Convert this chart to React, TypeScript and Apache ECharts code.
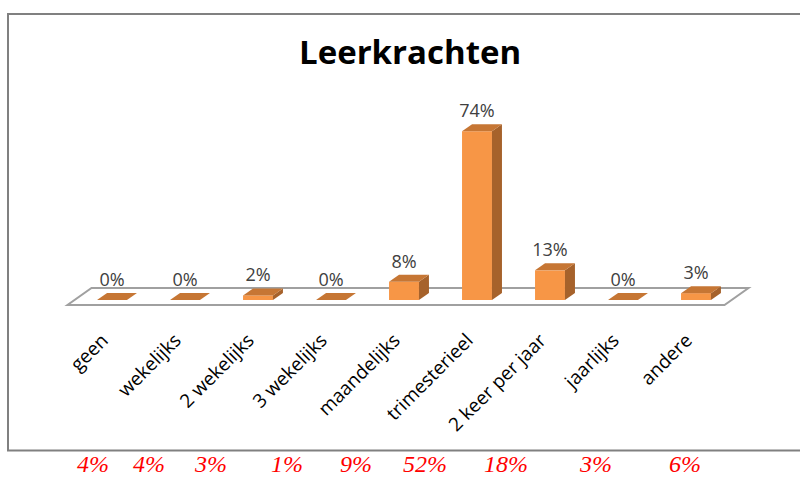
import React, { useEffect, useRef } from "react";
import * as echarts from "echarts";

const categories = [
  "geen",
  "wekelijks",
  "2 wekelijks",
  "3 wekelijks",
  "maandelijks",
  "trimesterieel",
  "2 keer per jaar",
  "jaarlijks",
  "andere",
];
const values = [0, 0, 2, 0, 8, 74, 13, 0, 3];
const footnoteValues = [4, 4, 3, 1, 9, 52, 18, 3, 6];
const footnoteX = [93, 149, 211, 287, 356, 425, 506, 596, 685];
const titleText = "Leerkrachten";

const FRONT = "#f79646";
const SIDE = "#a6622b";
const TOP = "#c67634";

export default function App() {
  const ref = useRef<HTMLDivElement>(null);
  useEffect(() => {
    if (!ref.current) return;
    const chart = echarts.init(ref.current, undefined, { renderer: "svg" });
    const DX = 10;
    const DY = 7;
    const option: any = {
      animation: false,
      backgroundColor: "#ffffff",
      title: {
        text: titleText,
        left: 294,
        top: 30,
        textStyle: {
          fontFamily: "Open Sans",
          fontWeight: "bold",
          fontSize: 33,
          color: "#000000",
        },
      },
      grid: { left: 75.5, right: 67.5, top: 72, bottom: 177 },
      xAxis: {
        type: "category",
        data: categories,
        axisLine: { show: false },
        axisTick: { show: false },
        splitLine: { show: false },
        axisLabel: {
          rotate: 45,
          margin: 29,
          interval: 0,
          padding: [0, 11, 0, 0],
          fontFamily: "Open Sans",
          fontSize: 19,
          color: "#000000",
        },
      },
      yAxis: {
        type: "value",
        min: 0,
        max: 100,
        show: false,
      },
      graphic: [
        {
          type: "rect",
          shape: { x: 8, y: 14, width: 820, height: 436.5 },
          style: { fill: "none", stroke: "#808080", lineWidth: 2 },
          z: 100,
        },
        ...footnoteValues.map((v, i) => ({
          type: "text",
          x: footnoteX[i],
          y: 476,
          style: {
            text: v + "%",
            textAlign: "center",
            textVerticalAlign: "bottom",
            fontFamily: "Liberation Serif",
            fontStyle: "italic",
            fontSize: 24,
            fill: "#ff0000",
          },
        })),
      ],
      series: [
        {
          type: "custom",
          z: 1,
          data: [[0, 0]],
          renderItem: (params: any, api: any) => {
            const cs = params.coordSys;
            const y0 = api.coord([0, 0])[1];
            const L = cs.x;
            const R = cs.x + cs.width;
            return {
              type: "polygon",
              shape: {
                points: [
                  [L - 8, y0 + 5],
                  [R - 8, y0 + 5],
                  [R + 16, y0 - 12],
                  [L + 16, y0 - 12],
                ],
              },
              style: { fill: "#ffffff", stroke: "#a0a0a0", lineWidth: 2 },
            };
          },
        },
        {
          type: "custom",
          z: 2,
          data: values.map((v, i) => [i, v]),
          renderItem: (params: any, api: any) => {
            const idx = api.value(0);
            const v = api.value(1);
            const base = api.coord([idx, 0]);
            const top = api.coord([idx, v]);
            const bw = api.size([1, 0])[0] * 0.41;
            const x0 = base[0] - bw / 2;
            const x1 = base[0] + bw / 2;
            const yb = base[1];
            const yt = top[1];
            const children: any[] = [];
            if (yb - yt > 0.5) {
              children.push({
                type: "rect",
                shape: { x: x0, y: yt, width: bw, height: yb - yt },
                style: { fill: FRONT },
              });
              children.push({
                type: "polygon",
                shape: {
                  points: [
                    [x1, yt],
                    [x1 + DX, yt - DY],
                    [x1 + DX, yb - DY],
                    [x1, yb],
                  ],
                },
                style: { fill: SIDE },
              });
            }
            children.push({
              type: "polygon",
              shape: {
                points: [
                  [x0, yt],
                  [x1, yt],
                  [x1 + DX, yt - DY],
                  [x0 + DX, yt - DY],
                ],
              },
              style: { fill: TOP },
            });
            children.push({
              type: "text",
              x: base[0],
              y: yt - 21,
              style: {
                text: v + "%",
                textAlign: "center",
                textVerticalAlign: "middle",
                fontFamily: "Open Sans",
                fontSize: 18,
                fill: "#404040",
              },
            });
            return { type: "group", children };
          },
        },
      ],
    };
    chart.setOption(option);
    return () => chart.dispose();
  }, []);
  return (
    <div
      ref={ref}
      style={{ position: "fixed", left: 0, top: 0, width: 800, height: 477 }}
    />
  );
}
